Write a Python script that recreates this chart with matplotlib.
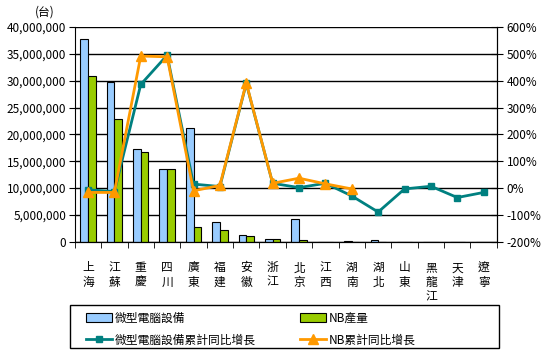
import matplotlib.pyplot as plt
import numpy as np
from matplotlib.ticker import FuncFormatter, FixedLocator
from matplotlib.patches import Rectangle

plt.rcParams['font.family'] = ['Noto Sans CJK TC', 'DejaVu Sans']

# 數據
provinces = ['上海', '江蘇', '重慶', '四川', '廣東', '福建', '安徽', '浙江',
             '北京', '江西', '湖南', '湖北', '山東', '黑龍江', '天津', '遼寧']
pc_output = [37700000, 29800000, 17200000, 13500000, 21200000, 3650000, 1200000, 600000,
             4200000, 0, 100000, 300000, 0, 0, 0, 0]
nb_output = [30800000, 22800000, 16700000, 13500000, 2850000, 2200000, 1000000, 600000,
             300000, 0, 0, 0, 0, 0, 0, 0]
pc_growth = [-6, -13, 386, 495, 15, 6, 390, 18, 2, 18, -29, -89, -3, 7, -35, -16]
nb_growth = [-16, -16, 492, 489, -10, 10, 392, 18, 37, 16, -3]

x = np.arange(len(provinces))

fig = plt.figure(figsize=(5.46, 3.51), dpi=100)
ax = fig.add_axes([0.137, 0.311, 0.773, 0.612])
ax2 = ax.twinx()

w = 0.29
b1 = ax.bar(x - w / 2, pc_output, w, color='#99CCFF', edgecolor='black', linewidth=0.8,
            label='微型電腦設備', zorder=2)
b2 = ax.bar(x + w / 2, nb_output, w, color='#99CC00', edgecolor='black', linewidth=0.8,
            label='NB產量', zorder=2)

l1, = ax2.plot(x, pc_growth, color='#008080', lw=2, marker='s', ms=5,
               label='微型電腦設備累計同比增長')
l2, = ax2.plot(x[:len(nb_growth)], nb_growth, color='#FF9900', lw=2, marker='^', ms=7,
               label='NB累計同比增長')

ax.set_xlim(-0.5, len(provinces) - 0.5)
ax.set_ylim(0, 40000000)
ax.set_yticks(np.arange(0, 40000001, 5000000))
ax.yaxis.set_major_formatter(FuncFormatter(lambda v, p: f'{int(v):,}'))
ax.grid(axis='y', color='black', lw=1, zorder=0)
ax.set_axisbelow(True)

ax2.set_ylim(-200, 600)
ax2.set_yticks(np.arange(-200, 601, 100))
ax2.yaxis.set_major_formatter(FuncFormatter(lambda v, p: f'{int(v)}%'))

ax.set_xticks(x)
ax.set_xticklabels(['\n'.join(p) for p in provinces], fontsize=8.5, va='top', linespacing=1.15)
ax.xaxis.set_minor_locator(FixedLocator(np.arange(-0.5, len(provinces), 1)))
ax.tick_params(axis='x', which='major', length=0, pad=14)
ax.tick_params(axis='x', which='minor', length=4, direction='out', color='black')
ax.tick_params(axis='y', labelsize=8.5, length=4, direction='out', pad=2)
ax2.tick_params(axis='y', labelsize=8.5, length=8, direction='inout', pad=3)

for a in (ax, ax2):
    a.spines['top'].set_visible(False)
    for s in a.spines.values():
        s.set_color('black')
ax2.spines['left'].set_visible(False)

fig.text(0.063, 0.965, '(台)', fontsize=8.5, ha='left', va='center')

# 圖例框
fig.patches.append(Rectangle((70 / 546, 1 - 348 / 351), 429 / 546, 43 / 351,
                             transform=fig.transFigure, fill=False, edgecolor='black', lw=1))

# 圖例: 列優先填充, 所以順序為 b1, l1, b2, l2
handles = [b1, l1, b2, l2]
fig.legend(handles, [h.get_label() for h in handles],
           loc='center left', bbox_to_anchor=(86 / 546, 1 - 329 / 351),
           ncol=2, fontsize=8.5, frameon=False, borderpad=0, borderaxespad=0,
           labelspacing=0.75, handlelength=2.2, handletextpad=0.2, columnspacing=3.8)

fig.savefig('out.png', dpi=100)
